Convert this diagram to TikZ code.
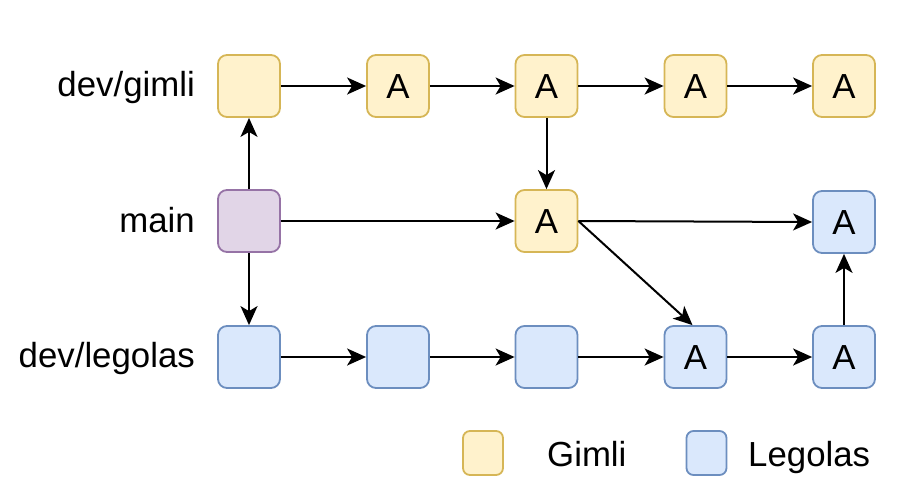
\documentclass[tikz,border=0pt]{standalone}
\usepackage{fontspec}
\setmainfont{Liberation Sans}
\usetikzlibrary{arrows.meta}
\definecolor{gfill}{HTML}{FFF2CC}
\definecolor{gdraw}{HTML}{D6B656}
\definecolor{bfill}{HTML}{DAE8FC}
\definecolor{bdraw}{HTML}{6C8EBF}
\definecolor{pfill}{HTML}{E1D5E7}
\definecolor{pdraw}{HTML}{9673A6}
\tikzset{
  commit/.style={rounded corners=9pt, minimum width=62pt, minimum height=62pt, inner sep=0pt, line width=1.8pt},
  gimli/.style={commit, fill=gfill, draw=gdraw},
  legolas/.style={commit, fill=bfill, draw=bdraw},
  mainc/.style={commit, fill=pfill, draw=pdraw},
  legbox/.style={rounded corners=7pt, minimum width=40pt, minimum height=44pt, inner sep=0pt, line width=1.8pt},
  txt/.style={font=\fontsize{34.8}{40}\selectfont, inner sep=0pt},
  arr/.style={line width=2pt, -{Stealth[length=19pt,width=17pt,inset=5pt]}},
}
\begin{document}
\begin{tikzpicture}[x=1pt,y=-1pt]
\useasboundingbox (0,0) rectangle (908,499);
% row labels
\node[txt, anchor=base east] (lg) at (195,96.5) {dev/gimli};
\node[txt, anchor=base east] (lm) at (195,232) {main};
\node[txt, anchor=base east] (ll) at (195,367.5) {dev/legolas};
% gimli row
\node[gimli] (g1) at (249,86) {};
\node[gimli] (g2) at (398,86) {};
\node[gimli] (g3) at (546.5,86) {};
\node[gimli] (g4) at (695.5,86) {};
\node[gimli] (g5) at (844,86) {};
% main row
\node[mainc] (m1) at (249,221) {};
\node[gimli] (m3) at (546.5,221) {};
\node[legolas] (m5) at (844,222) {};
% legolas row
\node[legolas] (l1) at (249,357) {};
\node[legolas] (l2) at (398,357) {};
\node[legolas] (l3) at (546.5,357) {};
\node[legolas] (l4) at (695.5,357) {};
\node[legolas] (l5) at (844,357) {};
% A labels
\foreach \n in {g2,g3,g4,g5,m3,m5,l4,l5}{
  \node[txt, anchor=base] (t\n) at ([yshift=-12pt]\n.center) {A};
}
% edges
\draw[arr] (g1) -- (g2);
\draw[arr] (g2) -- (g3);
\draw[arr] (g3) -- (g4);
\draw[arr] (g4) -- (g5);
\draw[arr] (m1) -- (g1);
\draw[arr] (m1) -- (l1);
\draw[arr] (m1) -- (m3);
\draw[arr] (g3) -- (m3);
\draw[arr] (m3.east) -- (m5.west);
\draw[arr] (m3.east) -- ([xshift=-3pt]l4.north);
\draw[arr] (l1) -- (l2);
\draw[arr] (l2) -- (l3);
\draw[arr] (l3) -- (l4);
\draw[arr] (l4) -- (l5);
\draw[arr] (l5) -- (m5);
% legend
\node[legbox, fill=gfill, draw=gdraw] (kg) at (483,453) {};
\node[legbox, fill=bfill, draw=bdraw] (kb) at (706.5,453) {};
\node[txt, anchor=base west] (kgt) at (547,466.5) {Gimli};
\node[txt, anchor=base west] (kbt) at (748,466.5) {Legolas};
\end{tikzpicture}
\end{document}
